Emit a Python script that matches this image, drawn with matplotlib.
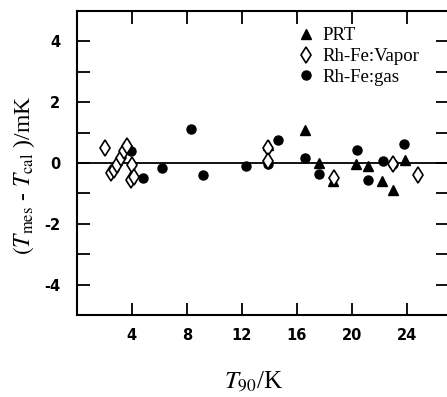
import matplotlib
matplotlib.use("Agg")
import matplotlib.pyplot as plt
from matplotlib.ticker import MultipleLocator

plt.rcParams['font.family'] = ['Liberation Serif', 'DejaVu Serif']
plt.rcParams['mathtext.fontset'] = 'stix'
plt.rcParams['axes.unicode_minus'] = False

# PRT (filled triangles)
prt_T = [3.7, 13.9, 16.6, 17.6, 18.6, 20.3, 21.2, 22.2, 23.0, 23.9]
prt_d = [0.6, 0.6, 1.08, 0.0, -0.6, -0.02, -0.1, -0.58, -0.88, 0.1]

# Rh-Fe: Vapor (open diamonds)
vap_T = [2.05, 2.5, 2.7, 2.9, 3.2, 3.4, 3.65, 4.0, 3.9, 4.15, 13.9, 13.9, 18.7, 23.0, 24.8]
vap_d = [0.49, -0.33, -0.23, -0.06, 0.16, 0.39, 0.55, -0.06, -0.55, -0.45, 0.5, 0.05, -0.5, -0.05, -0.4]

# Rh-Fe: gas (filled circles)
gas_T = [3.9, 3.9, 4.8, 6.2, 8.33, 9.16, 12.3, 13.9, 14.6, 16.6, 17.6, 20.4, 21.2, 22.3, 23.0, 23.8]
gas_d = [0.4, -0.55, -0.49, -0.17, 1.12, -0.39, -0.09, -0.05, 0.77, 0.15, -0.36, 0.42, -0.57, 0.08, -0.05, 0.63]

xticks = [4, 8, 12, 16, 20, 24]
yticks = [-4, -2, 0, 2, 4]

fig = plt.figure(figsize=(4.47, 3.97), dpi=100)
ax = fig.add_axes([0.172, 0.2065, 0.8305, 0.766])

ax.axhline(0, color='black', lw=1.3, zorder=1)
ax.plot(prt_T, prt_d, linestyle='none', marker='^', ms=7.5, color='black', label='PRT', zorder=3)
ax.plot(vap_T, vap_d, linestyle='none', marker='d', ms=8, mfc='white', mec='black', mew=1.2,
        label='Rh-Fe:Vapor', zorder=4)
ax.plot(gas_T, gas_d, linestyle='none', marker='o', ms=6.5, color='black', label='Rh-Fe:gas', zorder=3)

ax.set_xlim(0, 27)
ax.set_ylim(-5, 5)
ax.set_xticks(xticks)
ax.set_yticks(yticks)
ax.yaxis.set_minor_locator(MultipleLocator(1))
ax.tick_params(which='both', direction='in', top=True, right=True, width=1.3)
ax.tick_params(which='major', length=9)
ax.tick_params(which='minor', length=9)
ax.tick_params(axis='y', pad=12)
ax.tick_params(axis='x', pad=9)
for lab in ax.get_xticklabels() + ax.get_yticklabels():
    lab.set_family('DejaVu Sans')
    lab.set_fontweight('bold')
    lab.set_fontsize(10.5)
for s in ax.spines.values():
    s.set_linewidth(1.5)

fig.text(24 / 447, 1 - 175 / 397, r'$(T_{\rm mes}$ - $T_{\rm cal}$ )/mK', fontsize=17,
         rotation=90, ha='center', va='center')
fig.text(254 / 447, 1 - 381 / 397, r'$T_{90}$/K', fontsize=18, ha='center', va='center')

leg = ax.legend(loc='upper left', bbox_to_anchor=(0.565, 0.99), frameon=False, fontsize=13.5,
                handlelength=0.7, handletextpad=0.5, labelspacing=0.2, borderaxespad=0.3)

fig.savefig('out.png', dpi=100)
